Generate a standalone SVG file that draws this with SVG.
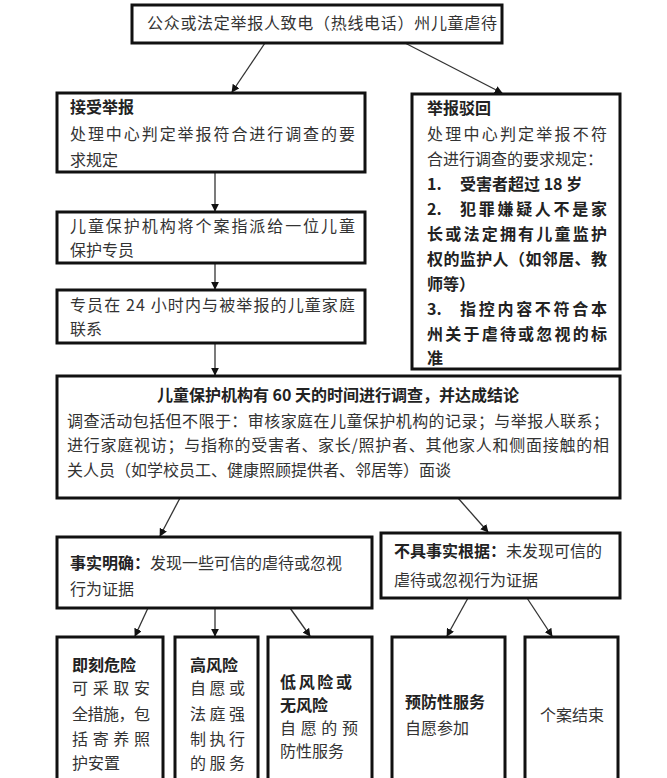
<svg xmlns="http://www.w3.org/2000/svg" width="667" height="778" viewBox="0 0 667 778">
<defs>
<marker id="ah" viewBox="0 0 10 10" refX="9" refY="5" markerWidth="8" markerHeight="8" markerUnits="userSpaceOnUse" orient="auto"><path d="M0,0 L10,5 L0,10 z" fill="#111"/></marker>
<style>
.box{fill:#fff;stroke:#111;stroke-width:3}
text{font-family:"Noto Sans CJK SC","Noto Sans",sans-serif;font-size:16px;fill:#333}
.b{font-weight:bold;fill:#222}
.c{stroke:#333;stroke-width:1.3;fill:none;marker-end:url(#ah)}
</style>
</defs>
<rect width="667" height="778" fill="#fff"/>
<g id="connectors">
<line class="c" x1="265" y1="43" x2="232" y2="92"/>
<line class="c" x1="405" y1="43" x2="502" y2="93"/>
<line class="c" x1="215" y1="172" x2="215" y2="211"/>
<line class="c" x1="215" y1="263" x2="215" y2="289"/>
<line class="c" x1="215" y1="343" x2="215" y2="375"/>
<line class="c" x1="180" y1="498" x2="160" y2="536"/>
<line class="c" x1="458" y1="498" x2="488" y2="532"/>
<line class="c" x1="148" y1="608" x2="135" y2="636"/>
<line class="c" x1="215" y1="608" x2="215" y2="636"/>
<line class="c" x1="290" y1="608" x2="310" y2="636"/>
<line class="c" x1="468" y1="598" x2="447" y2="636"/>
<line class="c" x1="527" y1="598" x2="552" y2="636"/>
</g>
<g id="n_top">
<rect class="box" x="132" y="5" width="370" height="38"/>
<text x="147" y="29" textLength="350" lengthAdjust="spacing">公众或法定举报人致电（热线电话）州儿童虐待</text>
</g>
<g id="n_accept">
<rect class="box" x="57" y="93" width="308" height="79"/>
<text class="b" x="70" y="113">接受举报</text>
<text x="70" y="140" textLength="285" lengthAdjust="spacing">处理中心判定举报符合进行调查的要</text>
<text x="70" y="166">求规定</text>
</g>
<g id="n_assign">
<rect class="box" x="57" y="212" width="308" height="51"/>
<text x="70" y="232" textLength="285" lengthAdjust="spacing">儿童保护机构将个案指派给一位儿童</text>
<text x="70" y="256">保护专员</text>
</g>
<g id="n_contact">
<rect class="box" x="57" y="290" width="308" height="53"/>
<text x="70" y="311" textLength="285" lengthAdjust="spacing">专员在 24 小时内与被举报的儿童家庭</text>
<text x="70" y="335">联系</text>
</g>
<g id="n_reject">
<rect class="box" x="412" y="94" width="208" height="275"/>
<text class="b" x="427" y="114">举报驳回</text>
<text x="427" y="140" textLength="180" lengthAdjust="spacing">处理中心判定举报不符</text>
<text x="427" y="165" textLength="176" lengthAdjust="spacing">合进行调查的要求规定：</text>
<text class="b" x="427" y="190">1.</text>
<text class="b" x="460" y="190">受害者超过 18 岁</text>
<text class="b" x="427" y="215">2.</text>
<text class="b" x="460" y="215" textLength="147" lengthAdjust="spacing">犯罪嫌疑人不是家</text>
<text class="b" x="427" y="240" textLength="180" lengthAdjust="spacing">长或法定拥有儿童监护</text>
<text class="b" x="427" y="265" textLength="180" lengthAdjust="spacing">权的监护人（如邻居、教</text>
<text class="b" x="427" y="290">师等）</text>
<text class="b" x="427" y="315">3.</text>
<text class="b" x="460" y="315" textLength="147" lengthAdjust="spacing">指控内容不符合本</text>
<text class="b" x="427" y="340" textLength="180" lengthAdjust="spacing">州关于虐待或忽视的标</text>
<text class="b" x="427" y="364">准</text>
</g>
<g id="n_investigate">
<rect class="box" x="57" y="376" width="563" height="122"/>
<text class="b" x="338" y="401" text-anchor="middle">儿童保护机构有 60 天的时间进行调查，并达成结论</text>
<text x="67" y="427" textLength="542" lengthAdjust="spacing">调查活动包括但不限于：审核家庭在儿童保护机构的记录；与举报人联系；</text>
<text x="67" y="451" textLength="542" lengthAdjust="spacing">进行家庭视访；与指称的受害者、家长/照护者、其他家人和侧面接触的相</text>
<text x="67" y="476">关人员（如学校员工、健康照顾提供者、邻居等）面谈</text>
</g>
<g id="n_substantiated">
<rect class="box" x="57" y="537" width="315" height="71"/>
<text x="70" y="569"><tspan class="b">事实明确：</tspan>发现一些可信的虐待或忽视</text>
<text x="70" y="595">行为证据</text>
</g>
<g id="n_unsubstantiated">
<rect class="box" x="381" y="533" width="239" height="65"/>
<text x="394" y="557"><tspan class="b">不具事实根据：</tspan>未发现可信的</text>
<text x="394" y="586">虐待或忽视行为证据</text>
</g>
<g id="n_immediate">
<rect class="box" x="57" y="637" width="106" height="170"/>
<text class="b" x="72" y="671">即刻危险</text>
<text x="72" y="694" textLength="78" lengthAdjust="spacing">可采取安</text>
<text x="72" y="720" textLength="78" lengthAdjust="spacing">全措施，包</text>
<text x="72" y="745" textLength="78" lengthAdjust="spacing">括寄养照</text>
<text x="72" y="769">护安置</text>
</g>
<g id="n_high">
<rect class="box" x="175" y="637" width="83" height="170"/>
<text class="b" x="190" y="671">高风险</text>
<text x="190" y="694" textLength="55" lengthAdjust="spacing">自愿或</text>
<text x="190" y="720" textLength="55" lengthAdjust="spacing">法庭强</text>
<text x="190" y="745" textLength="55" lengthAdjust="spacing">制执行</text>
<text x="190" y="769" textLength="55" lengthAdjust="spacing">的服务</text>
</g>
<g id="n_low">
<rect class="box" x="268" y="637" width="104" height="170"/>
<text class="b" x="280" y="688" textLength="72" lengthAdjust="spacing">低风险或</text>
<text class="b" x="280" y="711">无风险</text>
<text x="280" y="734" textLength="78" lengthAdjust="spacing">自愿的预</text>
<text x="280" y="757">防性服务</text>
</g>
<g id="n_prevent">
<rect class="box" x="392" y="637" width="113" height="170"/>
<text class="b" x="405" y="708">预防性服务</text>
<text x="405" y="734">自愿参加</text>
</g>
<g id="n_close">
<rect class="box" x="525" y="637" width="93" height="170"/>
<text x="572" y="721" text-anchor="middle">个案结束</text>
</g>
</svg>
